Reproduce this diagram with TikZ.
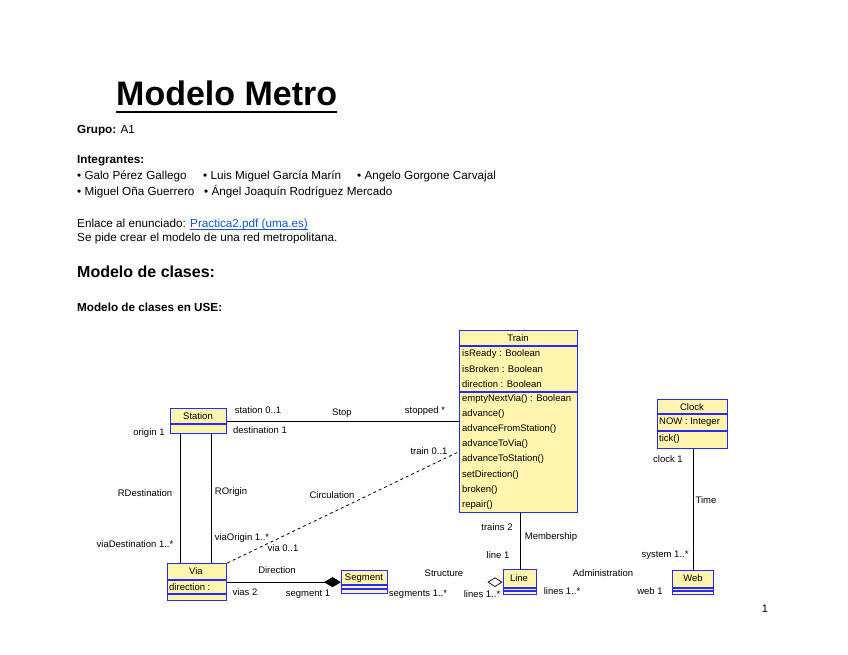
\documentclass[tikz,border=0pt]{standalone}
\usepackage{fontspec}
\setmainfont{Liberation Sans}
\usetikzlibrary{arrows.meta,shapes.geometric}

\definecolor{umlfill}{RGB}{255,245,175}
\definecolor{umlline}{RGB}{40,40,255}
\definecolor{linkblue}{RGB}{17,85,204}

\tikzset{
  cls/.style={draw=umlline,fill=umlfill,line width=1.3pt,inner sep=0pt,anchor=north west},
  sep/.style={draw=umlline,line width=1.3pt},
  txt/.style={inner sep=0pt,anchor=base west,font=\fontsize{11.7}{13}\selectfont},
  lbl/.style={inner sep=0pt,font=\fontsize{9.5}{11}\selectfont},
  mem/.style={inner sep=0pt,anchor=west,font=\fontsize{9.5}{11}\selectfont},
  assoc/.style={line width=0.8pt}
}

\begin{document}
\begin{tikzpicture}[x=1pt,y=-1pt]

        \fill[white] (0,0) rectangle (848,655);
        \useasboundingbox (0,0) rectangle (848,655);

        \node[inner sep=0pt,anchor=base west,font=\fontsize{34}{40}\selectfont\bfseries] (title) at (116,106) {Modelo Metro};
        \draw[line width=2.6pt] ([yshift=-6pt]title.base west) -- ([yshift=-6pt]title.base east);

        \node[txt] (grupo) at (77,134) {\textbf{Grupo:} A1};
        \node[txt] (integrantes) at (77,164) {\textbf{Integrantes:}};
        \node[txt] (galo) at (77,180) {• Galo Pérez Gallego};
        \node[txt] (luis) at (203,180) {• Luis Miguel García Marín};
        \node[txt] (angelo) at (357,180) {• Angelo Gorgone Carvajal};
        \node[txt] (miguel) at (77,196) {• Miguel Oña Guerrero};
        \node[txt] (angel) at (204,196) {• Ángel Joaquín Rodríguez Mercado};
        \node[txt] (enlace) at (77,227) {Enlace al enunciado:};
        \node[txt,text=linkblue] (link) at (190,227) {Practica2.pdf (uma.es)};
        \draw[linkblue,line width=0.6pt] ([yshift=-2pt]link.base west) -- ([yshift=-2pt]link.base east);
        \node[txt] (pide) at (77,241) {Se pide crear el modelo de una red metropolitana.};
        \node[txt,font=\fontsize{16}{18}\selectfont\bfseries] (clases) at (77,277) {Modelo de clases:};
        \node[txt,font=\fontsize{11.7}{13}\selectfont\bfseries] (enuse) at (77,311) {Modelo de clases en USE:};


        \node[cls,minimum width=118pt,minimum height=182pt] (train) at (459,330) {};
        \draw[sep] ([yshift=-16pt]train.north west) -- ([yshift=-16pt]train.north east);
        \draw[sep] ([yshift=-62pt]train.north west) -- ([yshift=-62pt]train.north east);
        \node[lbl] (trainname) at (518,338) {Train};
        \node[mem] (isready) at (462,354) {isReady : Boolean};
        \node[mem] (isbroken) at (462,369) {isBroken : Boolean};
        \node[mem] (direction) at (462,384) {direction : Boolean};
        \node[mem] (emptynext) at (462,399) {emptyNextVia() : Boolean};
        \node[mem] (advance) at (462,414) {advance()};
        \node[mem] (fromstation) at (462,429) {advanceFromStation()};
        \node[mem] (tovia) at (462,444) {advanceToVia()};
        \node[mem] (tostation) at (462,459) {advanceToStation()};
        \node[mem] (setdir) at (462,475) {setDirection()};
        \node[mem] (broken) at (462,490) {broken()};
        \node[mem] (repair) at (462,505) {repair()};

        \node[cls,minimum width=56pt,minimum height=25pt] (station) at (170,408) {};
        \draw[sep] ([yshift=-16pt]station.north west) -- ([yshift=-16pt]station.north east);
        \node[lbl] (stationname) at (198,416) {Station};

        \node[cls,minimum width=59pt,minimum height=37pt] (via) at (167,563) {};
        \draw[sep] ([yshift=-17pt]via.north west) -- ([yshift=-17pt]via.north east);
        \draw[sep] ([yshift=-31pt]via.north west) -- ([yshift=-31pt]via.north east);
        \node[lbl] (vianame) at (196,571) {Via};
        \node[mem] (viadir) at (169,587) {direction :};

        \node[cls,minimum width=46pt,minimum height=23pt] (segment) at (341,570) {};
        \draw[sep] ([yshift=-15pt]segment.north west) -- ([yshift=-15pt]segment.north east);
        \draw[sep] ([yshift=-19pt]segment.north west) -- ([yshift=-19pt]segment.north east);
        \node[lbl] (segmentname) at (364,578) {Segment};

        \node[cls,minimum width=33pt,minimum height=25pt] (line) at (503,569) {};
        \draw[sep] ([yshift=-19pt]line.north west) -- ([yshift=-19pt]line.north east);
        \draw[sep] ([yshift=-22pt]line.north west) -- ([yshift=-22pt]line.north east);
        \node[lbl] (linename) at (519,578) {Line};

        \node[cls,minimum width=41pt,minimum height=24pt] (web) at (672,570) {};
        \draw[sep] ([yshift=-18pt]web.north west) -- ([yshift=-18pt]web.north east);
        \draw[sep] ([yshift=-21pt]web.north west) -- ([yshift=-21pt]web.north east);
        \node[lbl] (webname) at (693,578) {Web};

        \node[cls,minimum width=70pt,minimum height=49pt] (clock) at (657,399) {};
        \draw[sep] ([yshift=-15pt]clock.north west) -- ([yshift=-15pt]clock.north east);
        \draw[sep] ([yshift=-32pt]clock.north west) -- ([yshift=-32pt]clock.north east);
        \node[lbl] (clockname) at (692,407) {Clock};
        \node[mem] (now) at (659,422) {NOW : Integer};
        \node[mem] (tick) at (659,439) {tick()};


        \draw[assoc] (station.east) -- (station.east -| train.west);
        \draw[assoc] ([xshift=-18pt]station.south) -- ([xshift=-18pt]station.south |- via.north);
        \draw[assoc] ([xshift=13pt]station.south) -- ([xshift=13pt]station.south |- via.north);
        \draw[assoc,dashed] (via.north east) -- ([yshift=-30pt]train.west);
        \draw[assoc,-{Diamond[length=17pt,width=10pt]}] (via.east) -- (segment.west);
        \draw[assoc] (line.north |- train.south) -- (line.north);
        \draw[assoc] (web.north |- clock.south) -- (web.north);
        \node[draw,diamond,line width=0.7pt,inner sep=0pt,minimum width=14pt,minimum height=9pt] (agg) at ([xshift=-8pt]line.west) {};


        \node[lbl] (station01) at (258,410) {station 0..1};
        \node[lbl] (stop) at (342,413) {Stop};
        \node[lbl] (stopped) at (425,411) {stopped *};
        \node[lbl] (destination) at (260,430) {destination 1};
        \node[lbl] (origin) at (149,433) {origin 1};
        \node[lbl] (train01) at (429,451) {train 0..1};
        \node[lbl] (rdest) at (145,493) {RDestination};
        \node[lbl] (rorig) at (231,492) {ROrigin};
        \node[lbl] (circulation) at (332,495) {Circulation};
        \node[lbl] (viadest) at (135,544) {viaDestination 1..*};
        \node[lbl] (viaorig) at (242,538) {viaOrigin 1..*};
        \node[lbl] (via01) at (283,548) {via 0..1};
        \node[lbl] (directionlbl) at (277,570) {Direction};
        \node[lbl] (vias) at (245,592) {vias 2};
        \node[lbl] (segment1) at (308,594) {segment 1};
        \node[lbl] (segments) at (418,594) {segments 1..*};
        \node[lbl] (structure) at (444,573) {Structure};
        \node[lbl] (lines) at (482,594) {lines 1..*};
        \node[lbl] (trains) at (497,527) {trains 2};
        \node[lbl] (membership) at (551,537) {Membership};
        \node[lbl] (line1) at (498,555) {line 1};
        \node[lbl] (weblines) at (562,591) {lines 1..*};
        \node[lbl] (administration) at (603,573) {Administration};
        \node[lbl] (web1) at (650,591) {web 1};
        \node[lbl] (system) at (665,555) {system 1..*};
        \node[lbl] (clock1) at (668,459) {clock 1};
        \node[lbl] (time) at (706,500) {Time};

        \node[lbl,font=\fontsize{11}{13}\selectfont] (pagenum) at (765,609) {1};

\end{tikzpicture}
\end{document}
